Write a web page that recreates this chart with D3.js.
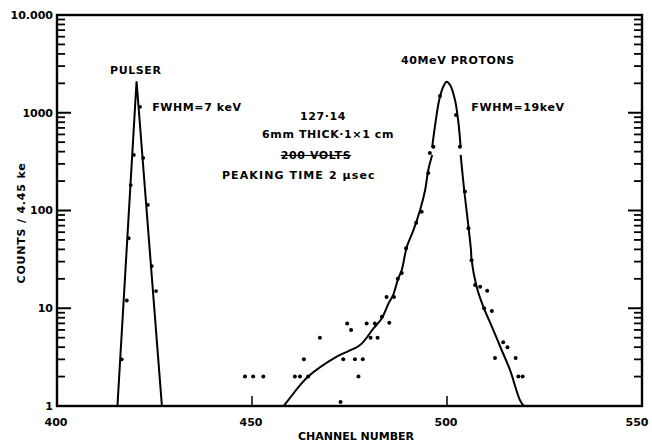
<!DOCTYPE html>
<html><head><meta charset="utf-8">
<script src="https://cdn.jsdelivr.net/npm/d3@7"></script>
<style>
body{margin:0;background:#fff;}
svg{display:block;}
text{font-family:"DejaVu Sans",sans-serif;font-weight:bold;fill:#000;}
</style></head>
<body>
<svg id="c" width="652" height="443"></svg>
<script>
// ---------- data ----------
const xTicks = [400, 450, 500, 550];
const xTickLabels = ["400", "450", "500", "550"];
const yTicks = [1, 10, 100, 1000, 10000];
const yTickLabels = ["1", "10", "100", "1000", "10.000"];

// pulser fit line (channel, counts)
const pulserFit = [[415.5, 1], [420.4, 2100], [426.9, 1]];
// pulser measured points
const pulserPoints = [
  [416.6, 3], [417.9, 12], [418.4, 52], [418.9, 182], [419.7, 370],
  [421.3, 1150], [422.1, 345], [423.3, 114], [424.3, 27], [425.4, 15]
];

// proton fit curve, drawn in three pieces (gaps in the original line)
const protonFitLow = [
  [458.1, 1], [459.3, 1.15], [464.4, 2.0], [471.7, 3.2], [477.7, 4.2],
  [481.1, 6.2], [483.3, 7.9], [485.0, 11.2], [486.2, 13.7], [487.5, 20.2],
  [488.4, 24.6], [489.7, 42.6], [491.4, 63], [493.1, 101], [494.4, 162],
  [495.2, 260], [496.2, 370]
];
const protonFitPeak = [
  [496.2, 443], [496.9, 720], [498.0, 1349], [499.05, 1848], [499.9, 2080],
  [500.8, 1924], [502.05, 1349], [502.9, 810], [503.5, 443]
];
const protonFitHigh = [
  [503.5, 370], [504.4, 162], [505.3, 80], [506.15, 39.4], [506.3, 31.2],
  [507.6, 16.6], [509.3, 10.4], [511.5, 6.5], [514.0, 3.74], [516.15, 2.34],
  [518.7, 1.15], [519.7, 1]
];
// proton measured points
const protonPoints = [
  [448.2, 2], [450.3, 2], [452.9, 2], [461.0, 2], [462.3, 2], [464.4, 2],
  [463.3, 3], [467.4, 5], [472.7, 1.1], [473.4, 3], [474.4, 7], [475.4, 6],
  [476.4, 3], [477.3, 2], [478.4, 3], [479.4, 7], [480.4, 5], [481.5, 7],
  [482.2, 5], [483.3, 8.2], [485.2, 7.1], [484.5, 13], [486.4, 13],
  [487.4, 20], [488.4, 23], [489.5, 41], [492.1, 75], [493.5, 97],
  [495.2, 242], [495.6, 387], [496.5, 450], [498.2, 1480], [502.3, 950],
  [503.3, 450], [504.6, 156], [505.5, 66], [506.3, 31], [507.2, 17.3],
  [508.5, 16.6], [510.3, 15.1], [509.5, 10], [511.5, 9.4], [514.4, 4.5],
  [515.5, 4.0], [512.3, 3.1], [517.6, 3.1], [518.3, 2], [519.4, 2]
];

// annotations (anchored at channel / counts)
const annotations = [
  {text: "PULSER", x: 420.2, y: 2740, anchor: "middle"},
  {text: "FWHM=7 keV", x: 424.4, y: 1145, anchor: "start"},
  {text: "127·14", x: 468.2, y: 927, anchor: "middle"},
  {text: "6mm THICK·1×1 cm", x: 469.5, y: 606, anchor: "middle"},
  {text: "200 VOLTS", x: 466.4, y: 370, anchor: "middle", strike: true},
  {text: "PEAKING TIME 2 μsec", x: 462.0, y: 231, anchor: "middle"},
  {text: "40MeV PROTONS", x: 502.8, y: 3465, anchor: "middle"},
  {text: "FWHM=19keV", x: 518.2, y: 1145, anchor: "middle"}
];
const xTitle = "CHANNEL NUMBER";
const yTitle = "COUNTS / 4.45 ke";

// ---------- drawing ----------
const W = 652;
const svg = d3.select("#c");
const L = 57, R = 642, T = 15, B = 406;
const x = d3.scaleLinear().domain([400, 550]).range([L, R]);
const y = d3.scaleLog().domain([1, 10000]).range([B, T]);

// minor log ticks
const minor = [];
for (let d = 1; d < 10000; d *= 10) for (let k = 2; k <= 9; k++) minor.push(d * k);

// left axis ticks (inward)
const gL = svg.append("g");
gL.selectAll("line.maj").data(yTicks.slice(1, 4)).join("line")
  .attr("x1", L).attr("x2", L + 14).attr("y1", d => y(d)).attr("y2", d => y(d))
  .attr("stroke", "#000").attr("stroke-width", 2);
gL.selectAll("line.min").data(minor).join("line")
  .attr("x1", L).attr("x2", L + 8).attr("y1", d => y(d)).attr("y2", d => y(d))
  .attr("stroke", "#000").attr("stroke-width", 1.8);
// right axis ticks (inward)
const gR = svg.append("g");
gR.selectAll("line.maj").data(yTicks.slice(1, 4)).join("line")
  .attr("x1", R).attr("x2", R - 14).attr("y1", d => y(d)).attr("y2", d => y(d))
  .attr("stroke", "#000").attr("stroke-width", 2);
gR.selectAll("line.min").data(minor).join("line")
  .attr("x1", R).attr("x2", R - 8).attr("y1", d => y(d)).attr("y2", d => y(d))
  .attr("stroke", "#000").attr("stroke-width", 1.8);
// bottom ticks
svg.append("g").selectAll("line").data(xTicks.slice(1, 3)).join("line")
  .attr("x1", d => x(d)).attr("x2", d => x(d)).attr("y1", B).attr("y2", B - 10)
  .attr("stroke", "#000").attr("stroke-width", 1.5);

// frame
svg.append("rect").attr("x", L).attr("y", T).attr("width", R - L).attr("height", B - T)
  .attr("fill", "none").attr("stroke", "#000").attr("stroke-width", 2.4);

// tick labels
svg.append("g").selectAll("text").data(yTicks).join("text")
  .attr("x", L - 4).attr("y", d => y(d)).attr("dy", "0.35em")
  .attr("text-anchor", "end").attr("font-size", 11)
  .text((d, i) => yTickLabels[i]);
svg.append("g").selectAll("text").data(xTicks).join("text")
  .attr("x", d => Math.min(x(d) - 1, W - 15)).attr("y", B + 20)
  .attr("text-anchor", "middle").attr("font-size", 11)
  .text((d, i) => xTickLabels[i]);

// titles
svg.append("text").attr("x", 356).attr("y", 440).attr("text-anchor", "middle")
  .attr("font-size", 11).text(xTitle);
svg.append("text").attr("transform", "translate(25,223) rotate(-90)")
  .attr("text-anchor", "middle").attr("font-size", 11).attr("letter-spacing", 0.8)
  .text(yTitle);

// curves
const line = d3.line().x(d => x(d[0])).y(d => y(d[1])).curve(d3.curveLinear);
const smooth = d3.line().x(d => x(d[0])).y(d => y(d[1])).curve(d3.curveCatmullRom.alpha(0.5));
svg.append("path").attr("d", line(pulserFit)).attr("fill", "none")
  .attr("stroke", "#000").attr("stroke-width", 2);
[protonFitLow, protonFitPeak, protonFitHigh].forEach(seg => {
  svg.append("path").attr("d", smooth(seg)).attr("fill", "none")
    .attr("stroke", "#000").attr("stroke-width", 2);
});

// points
svg.append("g").selectAll("circle").data(pulserPoints).join("circle")
  .attr("cx", d => x(d[0])).attr("cy", d => y(d[1])).attr("r", 1.9).attr("fill", "#000");
svg.append("g").selectAll("circle").data(protonPoints).join("circle")
  .attr("cx", d => x(d[0])).attr("cy", d => y(d[1])).attr("r", 2).attr("fill", "#000");

// annotations
svg.append("g").selectAll("text").data(annotations).join("text")
  .attr("x", d => x(d.x)).attr("y", d => y(d.y)).attr("dy", "0.35em")
  .attr("text-anchor", d => d.anchor).attr("font-size", 11)
  .attr("letter-spacing", d => d.text.startsWith("PEAKING") ? 1.1 : 0.6)
  .attr("text-decoration", d => d.strike ? "line-through" : null)
  .text(d => d.text);
</script>
</body></html>
